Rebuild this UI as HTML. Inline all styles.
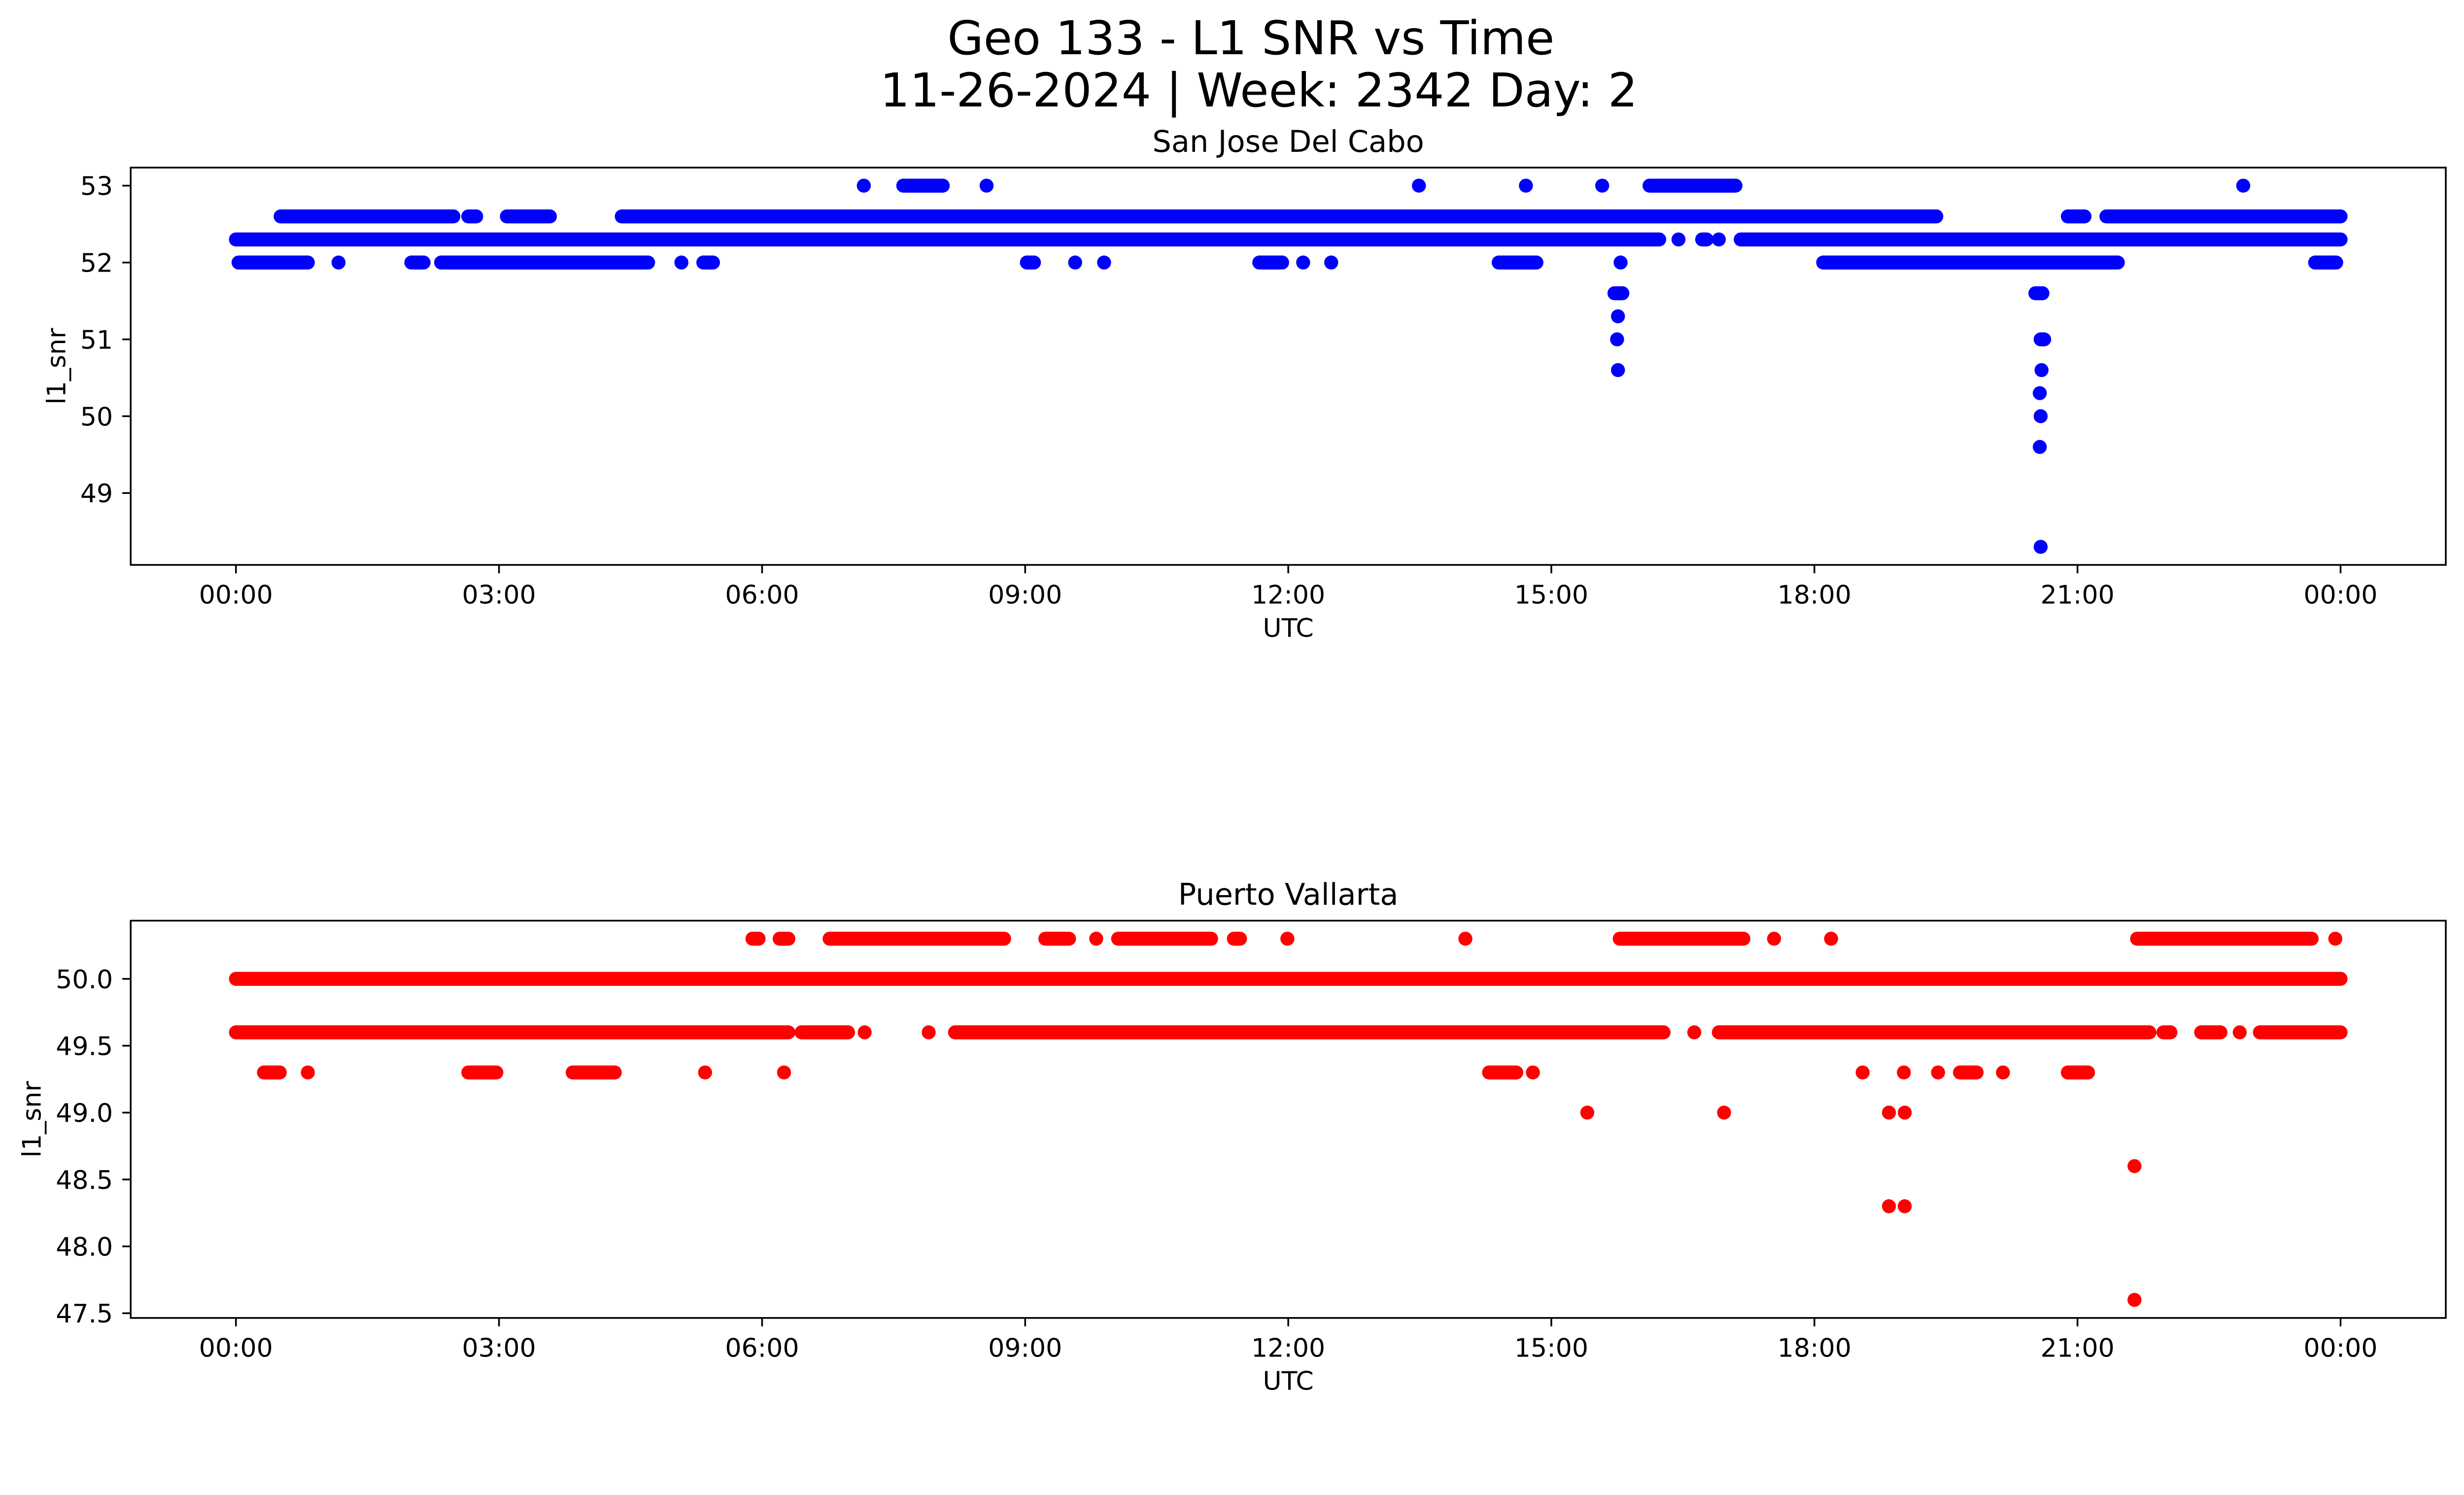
<!DOCTYPE html>
<html><head><meta charset="utf-8"><title>Geo 133 - L1 SNR vs Time</title>
<style>html,body{margin:0;padding:0;background:#fff;overflow:hidden;}svg{display:block;width:100vw;height:calc(100vw * 3033 / 5279);font-family:"DejaVu Sans","Liberation Sans",sans-serif;}</style>
</head><body>
<svg id="fig" viewBox="0 0 5279 3033" preserveAspectRatio="xMinYMin meet" xmlns="http://www.w3.org/2000/svg">
<rect width="5279" height="3033" fill="#fff"/>
<text x="2680" y="116" font-size="100" text-anchor="middle">Geo 133 - L1 SNR vs Time</text>
<text x="2697" y="228" font-size="100" text-anchor="middle">11-26-2024 | Week: 2342 Day: 2</text>
<g id="top"></g>
<g id="bot"></g>
</svg>
<script>
// Time ticks (hours) and labels
const xTickHours = [0, 3, 6, 9, 12, 15, 18, 21, 24];
const xTickLabels = ["00:00","03:00","06:00","09:00","12:00","15:00","18:00","21:00","00:00"];
// San Jose Del Cabo: runs of consecutive samples [snr, startHour, endHour]
const sjdRuns = [
  [53,7.16,7.16],[53,7.61,8.06],[53,8.56,8.56],[53,13.49,13.49],[53,14.71,14.71],[53,15.58,15.58],[53,16.12,17.1],[53,22.89,22.89],
  [52.6,0.51,2.48],[52.6,2.65,2.74],[52.6,3.09,3.58],[52.6,4.4,19.39],[52.6,20.89,21.08],[52.6,21.33,24.0],
  [52.3,0,16.23],[52.3,16.45,16.45],[52.3,16.72,16.77],[52.3,16.91,16.91],[52.3,17.16,24.0],
  [52,0.03,0.82],[52,1.17,1.17],[52,2.0,2.14],[52,2.34,4.7],[52,5.08,5.08],[52,5.33,5.44],[52,9.02,9.1],[52,9.57,9.57],[52,9.9,9.9],
  [52,11.67,11.93],[52,12.17,12.17],[52,12.49,12.49],[52,14.4,14.83],[52,15.79,15.79],[52,18.1,21.46],[52,23.71,23.95],
  [51.6,15.72,15.81],[51.3,15.76,15.76],[51.0,15.75,15.75],[50.6,15.76,15.76],
  [51.6,20.52,20.6],[51.0,20.58,20.62],[50.6,20.59,20.59],[50.3,20.57,20.57],[50.0,20.58,20.58],[49.6,20.57,20.57],[48.3,20.58,20.58]
];
const sjdYTicks = [49, 50, 51, 52, 53];
const sjdYTickLabels = ["49","50","51","52","53"];
const sjdYLim = [48.065, 53.235];
// Puerto Vallarta
const pvRuns = [
  [50.3,5.89,5.96],[50.3,6.2,6.3],[50.3,6.77,8.76],[50.3,9.23,9.5],[50.3,9.81,9.81],[50.3,10.06,11.12],[50.3,11.38,11.45],[50.3,11.99,11.99],
  [50.3,14.02,14.02],[50.3,15.78,17.19],[50.3,17.54,17.54],[50.3,18.19,18.19],[50.3,21.68,23.67],[50.3,23.94,23.94],
  [50.0,0,24.0],
  [49.6,0,6.3],[49.6,6.45,6.98],[49.6,7.17,7.17],[49.6,7.9,7.9],[49.6,8.2,16.28],[49.6,16.63,16.63],[49.6,16.91,21.82],[49.6,21.98,22.06],
  [49.6,22.41,22.63],[49.6,22.85,22.85],[49.6,23.08,24.0],
  [49.3,0.32,0.5],[49.3,0.82,0.82],[49.3,2.65,2.97],[49.3,3.84,4.32],[49.3,5.35,5.35],[49.3,6.25,6.25],[49.3,14.29,14.6],[49.3,14.79,14.79],
  [49.3,18.55,18.55],[49.3,19.02,19.02],[49.3,19.41,19.41],[49.3,19.66,19.85],[49.3,20.15,20.15],[49.3,20.89,21.12],
  [49.0,15.41,15.41],[49.0,16.97,16.97],[49.0,18.85,18.85],[49.0,19.03,19.03],[48.6,21.65,21.65],[48.3,18.85,18.85],[48.3,19.03,19.03],[47.6,21.65,21.65]
];
const pvYTicks = [47.5, 48.0, 48.5, 49.0, 49.5, 50.0];
const pvYTickLabels = ["47.5","48.0","48.5","49.0","49.5","50.0"];
const pvYLim = [47.465, 50.435];

const NS = "http://www.w3.org/2000/svg";
const AX_L = 280, AX_R = 5240, XMIN = -1.2, XMAX = 25.2, R = 15;
function xScale(h){ return AX_L + (h - XMIN) / (XMAX - XMIN) * (AX_R - AX_L); }
function mk(tag, attrs, parent){ const e = document.createElementNS(NS, tag); for (const k in attrs) e.setAttribute(k, attrs[k]); parent.appendChild(e); return e; }

function panel(g, top, bottom, ylim, runs, color, yTicks, yLabels, title, ylabelX, prefix){
  const yScale = v => bottom - (v - ylim[0]) / (ylim[1] - ylim[0]) * (bottom - top);
  const t = mk("text", {x: 2760, y: top - 34, "font-size": 64, "text-anchor": "middle"}, g);
  t.textContent = title;
  
  
  const marks = mk("g", {fill: color}, g);
  
  
  runs.forEach(r => {
    const x1 = xScale(r[1]), x2 = xScale(r[2]), y = yScale(r[0]);
    const m = mk("rect", {x: x1 - R, y: y - R, width: (x2 - x1) + 2 * R, height: 2 * R, rx: R, ry: R}, marks);
    
    
  });
  const frame = mk("rect", {x: AX_L, y: top, width: AX_R - AX_L, height: bottom - top, fill: "none", stroke: "#000", "stroke-width": 3.7}, g);
  
  
  yTicks.forEach((v, i) => {
    const y = yScale(v);
    const tk = mk("line", {x1: AX_L - 18, x2: AX_L, y1: y, y2: y, stroke: "#000", "stroke-width": 3.7}, g);
    
    
    const lb = mk("text", {x: 242, y: y + 20, "font-size": 55, "text-anchor": "end"}, g);
    lb.textContent = yLabels[i];
    
    
  });
  xTickHours.forEach((h, i) => {
    const x = xScale(h);
    const tk = mk("line", {x1: x, x2: x, y1: bottom, y2: bottom + 18, stroke: "#000", "stroke-width": 3.7}, g);
    
    
    const lb = mk("text", {x: x, y: bottom + 83, "font-size": 55, "text-anchor": "middle"}, g);
    lb.textContent = xTickLabels[i];
    
    
  });
  const xl = mk("text", {x: 2760, y: bottom + 154, "font-size": 55, "text-anchor": "middle"}, g);
  xl.textContent = "UTC";
  
  
  const cy = (top + bottom) / 2;
  const yl = mk("text", {x: ylabelX, y: cy, "font-size": 55, "text-anchor": "middle", transform: "rotate(-90 " + ylabelX + " " + cy + ")"}, g);
  yl.textContent = "l1_snr";
  
  
}
panel(document.getElementById("top"), 359, 1210, sjdYLim, sjdRuns, "#0000ff", sjdYTicks, sjdYTickLabels, "San Jose Del Cabo", 140, "sjd");
panel(document.getElementById("bot"), 1972, 2823, pvYLim, pvRuns, "#ff0000", pvYTicks, pvYTickLabels, "Puerto Vallarta", 87, "pv");
</script>
</body></html>
